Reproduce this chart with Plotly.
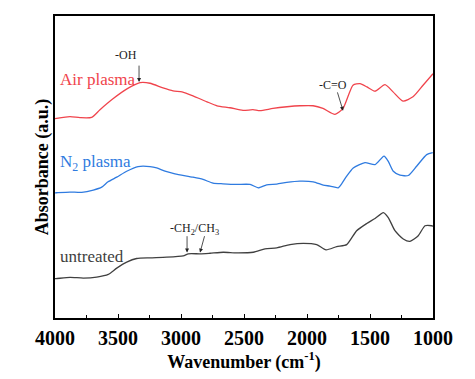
import plotly.graph_objects as go

# Wavenumber (cm-1) and absorbance (a.u., offset)
air_wn = [4000, 3987, 3881, 3802, 3709, 3643, 3540, 3429, 3325, 3246, 3143, 3063, 2992, 2905, 2794, 2714,
          2611, 2508, 2429, 2373, 2270, 2159, 2056, 1952, 1873, 1778, 1714, 1635, 1579, 1524, 1460,
          1381, 1317, 1238, 1159, 1079, 1000]
air_abs = [2.01, 2.013, 2.03, 2.02, 2.023, 2.10, 2.21, 2.31, 2.373, 2.367, 2.32, 2.29, 2.28, 2.24, 2.18, 2.14,
           2.12, 2.093, 2.10, 2.09, 2.113, 2.13, 2.14, 2.14, 2.113, 2.053, 2.113, 2.347, 2.363, 2.33, 2.287,
           2.353, 2.28, 2.187, 2.23, 2.347, 2.463]

n2_wn = [4000, 3987, 3881, 3788, 3696, 3629, 3579, 3510, 3431, 3341, 3246, 3193, 3127, 3048, 2905, 2825,
         2746, 2667, 2558, 2452, 2387, 2320, 2240, 2161, 2056, 1950, 1871, 1817, 1752, 1725, 1685,
         1633, 1540, 1460, 1389, 1355, 1315, 1262, 1196, 1130, 1050, 1002]
n2_abs = [1.262, 1.263, 1.27, 1.267, 1.29, 1.32, 1.373, 1.42, 1.48, 1.527, 1.527, 1.513, 1.48, 1.453, 1.42, 1.397,
          1.36, 1.353, 1.347, 1.347, 1.313, 1.343, 1.35, 1.367, 1.38, 1.373, 1.34, 1.33, 1.313, 1.353, 1.43,
          1.513, 1.567, 1.547, 1.633, 1.58, 1.48, 1.44, 1.437, 1.53, 1.647, 1.667]

un_wn = [4000, 3992, 3881, 3775, 3669, 3577, 3510, 3431, 3352, 3246, 3114, 2982, 2942, 2849, 2770, 2664,
         2558, 2426, 2333, 2240, 2135, 2029, 1923, 1849, 1764, 1685, 1606, 1526, 1460, 1394, 1355,
         1302, 1236, 1183, 1117, 1063, 1010, 1000]
un_abs = [0.397, 0.397, 0.41, 0.403, 0.413, 0.44, 0.503, 0.563, 0.60, 0.607, 0.613, 0.627, 0.647, 0.647, 0.653, 0.663,
          0.657, 0.663, 0.697, 0.707, 0.74, 0.753, 0.74, 0.687, 0.72, 0.74, 0.88, 0.953, 1.003, 1.063, 1.013,
          0.88, 0.797, 0.773, 0.83, 0.93, 0.93, 0.925]

series_names = ["Air plasma", "N<sub>2</sub> plasma", "untreated"]
series_colors = ["#F0444C", "#2F7BE0", "#404040"]

x_ticks = [4000, 3500, 3000, 2500, 2000, 1500, 1000]

SERIF = "Liberation Serif, Times New Roman, serif"

fig = go.Figure()
for wn, ab, col in [(air_wn, air_abs, series_colors[0]), (n2_wn, n2_abs, series_colors[1]),
                    (un_wn, un_abs, series_colors[2])]:
    fig.add_trace(go.Scatter(x=wn, y=ab, mode="lines",
                             line=dict(color=col, width=1.3, shape="spline", smoothing=0.6),
                             showlegend=False, hoverinfo="skip"))

annotations = []
# series labels
label_pos = [(3979, 2.40), (3976, 1.563), (3976, 0.623)]
for name, col, (lx, ly) in zip(series_names, series_colors, label_pos):
    annotations.append(dict(x=lx, y=ly, text=name, showarrow=False, xanchor="left", yanchor="middle",
                            font=dict(family=SERIF, size=17, color=col)))

# band labels
band_labels = [("-OH", 3437, 2.65), ("-C=O", 1794, 2.35), ("-CH<sub>2</sub>/CH<sub>3</sub>", 2889, 0.90)]
for t, bx, by in band_labels:
    annotations.append(dict(x=bx, y=by, text=t, showarrow=False, xanchor="center", yanchor="middle",
                            font=dict(family=SERIF, size=12, color="#222")))

# arrows: (head_x, head_y, tail_x, tail_y)
arrows = [(3333, 2.38, 3333, 2.56), (1714, 2.09, 1762, 2.29), (2952, 0.66, 2952, 0.84), (2849, 0.66, 2810, 0.84)]
for hx, hy, tx, ty in arrows:
    annotations.append(dict(x=hx, y=hy, ax=tx, ay=ty, axref="x", ayref="y", xref="x", yref="y",
                            text="", showarrow=True, arrowhead=2, arrowsize=1, arrowwidth=0.8,
                            arrowcolor="#222"))

fig.update_layout(
    width=467, height=371,
    margin=dict(l=47, r=42, t=6, b=61),
    paper_bgcolor="white", plot_bgcolor="white",
    annotations=annotations,
    xaxis=dict(range=[4000, 1000], tickvals=x_ticks, ticktext=[str(v) for v in x_ticks],
               ticks="inside", ticklen=4, tickwidth=1, tickcolor="black",
               minor=dict(dtick=250, ticks="inside", ticklen=3, tickcolor="black", tick0=1000),
               showline=True, linecolor="black", linewidth=2, mirror=True, showgrid=False, zeroline=False,
               tickfont=dict(family=SERIF, size=20, color="black", weight="bold"),
               ticklabelstandoff=1,
               title=dict(text="<b>Wavenumber (cm<sup>-1</sup>)</b>", font=dict(family=SERIF, size=18, color="black"),
                          standoff=0)),
    yaxis=dict(range=[0, 3.045], showticklabels=False, ticks="", showline=True, linecolor="black",
               linewidth=2, mirror=True, showgrid=False, zeroline=False,
               title=dict(text="<b>Absorbance (a.u.)</b>", font=dict(family=SERIF, size=18, color="black"),
                          standoff=0)),
)

fig.write_html("out.html")
